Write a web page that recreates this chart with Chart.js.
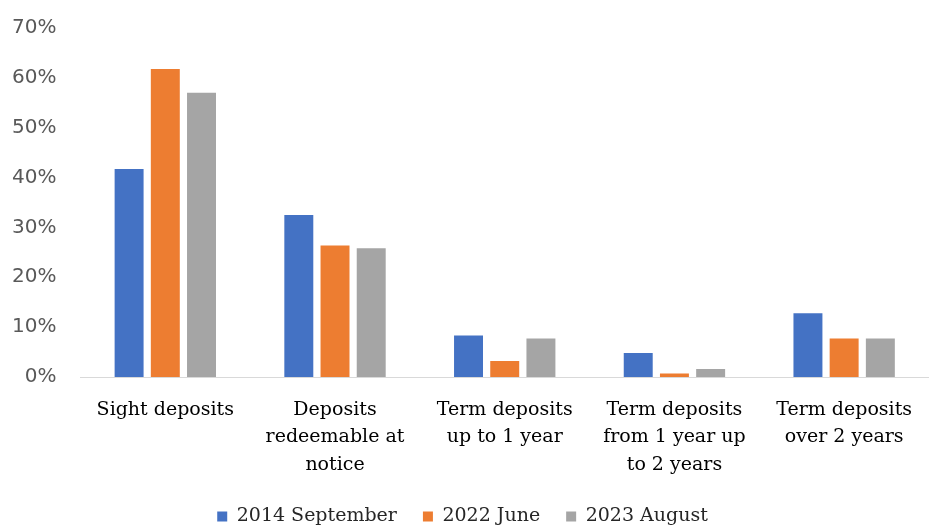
<!DOCTYPE html>
<html>
<head>
<meta charset="utf-8">
<script src="https://cdn.jsdelivr.net/npm/chart.js@4"></script>
<style>
  html, body { margin: 0; padding: 0; background: #fff; }
  #wrap { width: 929px; height: 526px; }
</style>
</head>
<body>
<div id="wrap"><canvas id="depositChart"></canvas></div>
<script>
// Data
const categories = [
  ["Sight deposits"],
  ["Deposits", "redeemable at", "notice"],
  ["Term deposits", "up to 1 year"],
  ["Term deposits", "from 1 year up", "to 2 years"],
  ["Term deposits", "over 2 years"],
];
const sep2014 = [41.7, 32.5, 8.3, 4.8, 12.8];
const jun2022 = [61.8, 26.4, 3.2, 0.7, 7.7];
const aug2023 = [57.0, 25.8, 7.7, 1.6, 7.7];
const seriesNames = ["2014 September", "2022 June", "2023 August"];
const yTicks = [0, 10, 20, 30, 40, 50, 60, 70];

const colors = ["#4472C4", "#ED7D31", "#A5A5A5"];
const serif = "'DejaVu Serif', serif";

const ctx = document.getElementById("depositChart");
new Chart(ctx, {
  type: "bar",
  data: {
    labels: categories,
    datasets: [sep2014, jun2022, aug2023].map((d, i) => ({
      label: seriesNames[i],
      data: d,
      backgroundColor: colors[i],
      borderWidth: 0,
      categoryPercentage: 0.64,
      barPercentage: 0.8,
    })),
  },
  options: {
    responsive: true,
    maintainAspectRatio: false,
    animation: false,
    // legend sits low in the reference, so let its padding box run off the bottom
    layout: { padding: { left: -4, right: 0, top: 15, bottom: -10 } },
    plugins: {
      tooltip: { enabled: false },
      legend: {
        position: "bottom",
        labels: {
          boxWidth: 10,
          boxHeight: 10,
          padding: 26,
          color: "#262626",
          font: { family: serif, size: 19 },
        },
      },
    },
    scales: {
      y: {
        min: 0,
        max: 70,
        afterBuildTicks: (axis) => {
          axis.ticks = yTicks.map((v) => ({ value: v }));
        },
        grid: { display: false },
        border: { display: false },
        ticks: {
          color: "#595959",
          padding: 16,
          font: { family: "'DejaVu Sans', sans-serif", size: 20 },
          callback: (v) => v + "%",
        },
      },
      x: {
        afterFit: (scale) => {
          scale.height = 104;
        },
        grid: { display: false },
        border: { display: true, color: "#d9d9d9", width: 1 },
        ticks: {
          color: "#000",
          maxRotation: 0,
          padding: 11,
          font: { family: serif, size: 19, lineHeight: 1.45 },
        },
      },
    },
  },
});
</script>
</body>
</html>
